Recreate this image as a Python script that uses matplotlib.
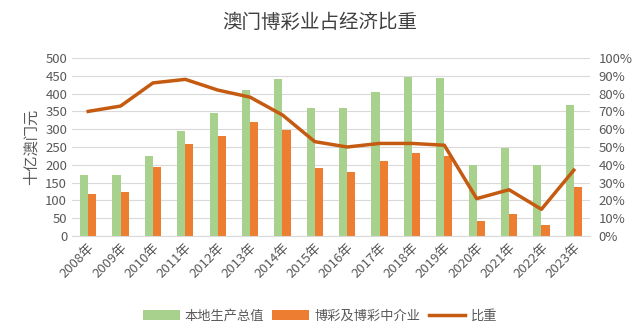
import matplotlib.pyplot as plt
import numpy as np

plt.rcParams['font.family'] = ['Noto Sans CJK SC', 'DejaVu Sans']

years = ['2008年', '2009年', '2010年', '2011年', '2012年', '2013年', '2014年', '2015年',
         '2016年', '2017年', '2018年', '2019年', '2020年', '2021年', '2022年', '2023年']
gdp = [170, 172, 226, 294, 346, 411, 440, 360, 360, 404, 446, 444, 200, 248, 200, 368]
gaming = [118, 125, 193, 259, 281, 321, 298, 191, 180, 210, 232, 226, 41, 62, 30, 137]
ratio = [70, 73, 86, 88, 82, 78, 68, 53, 50, 52, 52, 51, 21, 26, 15, 37]

grey = '#595959'
fig = plt.figure(figsize=(6.4, 3.34), dpi=100)
ax = fig.add_axes([72/640, 1-236/334, 518/640, 178/334])
x = np.arange(len(years))
w = 0.25
b1 = ax.bar(x - w/2, gdp, w, color='#A9D18E', label='本地生产总值', zorder=2)
b2 = ax.bar(x + w/2, gaming, w, color='#ED7D31', label='博彩及博彩中介业', zorder=2)
ax.set_ylim(0, 500)
ax.set_yticks(range(0, 501, 50))
ax.set_xlim(-0.5, len(years) - 0.5)
ax.set_xticks(x)
ax.set_xticklabels(years, rotation=45, ha='right', rotation_mode='anchor')
ax.grid(axis='y', color='#D9D9D9', lw=0.8, zorder=0)
for s in ax.spines.values():
    s.set_visible(False)
ax.spines['bottom'].set_visible(True)
ax.spines['bottom'].set_color('#D9D9D9')
ax.tick_params(length=0, colors=grey, labelsize=9.5)
ax.set_ylabel('十亿澳门元', color=grey, fontsize=11)

ax2 = ax.twinx()
l1, = ax2.plot(x, ratio, color='#C55A11', lw=2.5, label='比重')
ax2.set_ylim(0, 100)
ax2.set_yticks(range(0, 101, 10))
ax2.set_yticklabels([f'{v}%' for v in range(0, 101, 10)])
for s in ax2.spines.values():
    s.set_visible(False)
ax2.tick_params(length=0, colors=grey, labelsize=9.5, pad=6)

fig.text(0.5, 1-22/334, '澳门博彩业占经济比重', ha='center', va='center', fontsize=14, color='#404040')
fig.legend(handles=[b1, b2, l1], loc='center', bbox_to_anchor=(0.5, 1-316/334), ncol=3,
           frameon=False, fontsize=9.5, labelcolor=grey, handlelength=2.8,
           handletextpad=0.4, columnspacing=0.6)
fig.savefig('out.png', dpi=100)
